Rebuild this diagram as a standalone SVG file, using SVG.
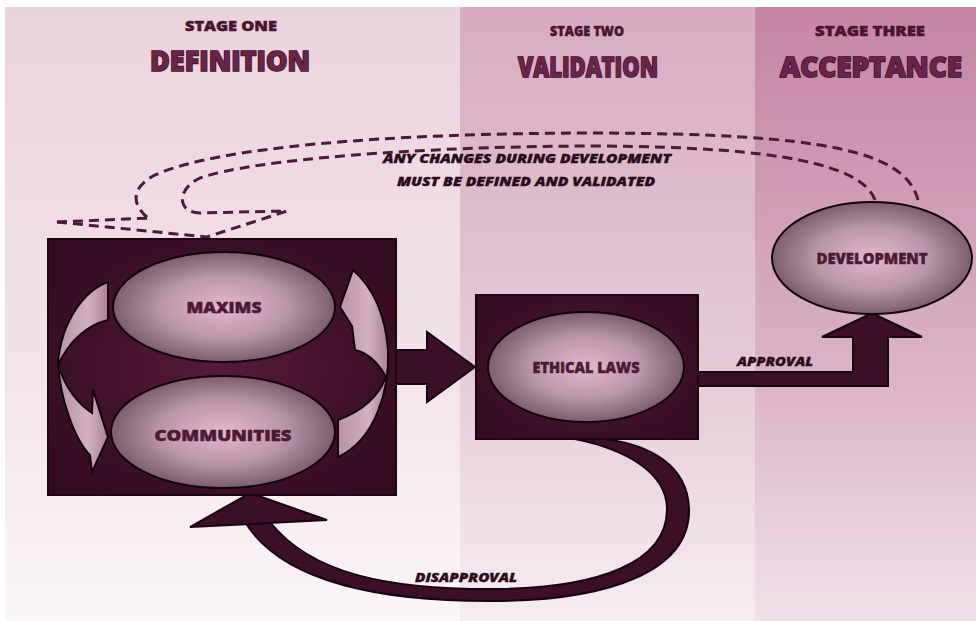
<svg xmlns="http://www.w3.org/2000/svg" width="976" height="621" viewBox="0 0 976 621">
<defs>
<linearGradient id="bg1" x1="0" y1="0" x2="0" y2="1"><stop offset="0" stop-color="#ebd3dd"/><stop offset="0.6" stop-color="#f2e3e9"/><stop offset="1" stop-color="#fbf6f8"/></linearGradient>
<linearGradient id="bg2" x1="0" y1="0" x2="0" y2="1"><stop offset="0" stop-color="#d6acc0"/><stop offset="0.6" stop-color="#e6cbd7"/><stop offset="1" stop-color="#f6edf1"/></linearGradient>
<linearGradient id="bg3" x1="0" y1="0" x2="0" y2="1"><stop offset="0" stop-color="#c485a3"/><stop offset="0.6" stop-color="#dbb3c6"/><stop offset="1" stop-color="#f1e1e9"/></linearGradient>
<radialGradient id="ell" cx="0.5" cy="0.5" r="0.5"><stop offset="0" stop-color="#e2b9cd"/><stop offset="0.55" stop-color="#bb97aa"/><stop offset="1" stop-color="#7d5d6d"/></radialGradient>
<radialGradient id="boxg" cx="0.5" cy="0.5" r="0.6"><stop offset="0" stop-color="#561a3c"/><stop offset="1" stop-color="#340b21"/></radialGradient>
<linearGradient id="arrg" x1="0" y1="0" x2="1" y2="0"><stop offset="0" stop-color="#b891a5"/><stop offset="0.6" stop-color="#d3b0c2"/><stop offset="1" stop-color="#a98296"/></linearGradient>
</defs>
<style>
.hdr{font-family:"Open Sans","Lato",sans-serif;font-weight:800;fill:#4a1430;stroke:#4a1430;stroke-width:0.5;text-anchor:middle}
.big{font-family:"Open Sans","Lato",sans-serif;font-weight:800;fill:#6b2449;stroke:#3a0b22;stroke-width:1.6;text-anchor:middle;paint-order:stroke}
.lbl{font-family:"Open Sans","Lato",sans-serif;font-weight:800;fill:#4d1a36;stroke:#4d1a36;stroke-width:0.5;text-anchor:middle;font-size:15px}
.note{font-family:"Open Sans","Lato",sans-serif;font-weight:800;font-style:italic;fill:#2a0a1b;stroke:#2a0a1b;stroke-width:0.4;text-anchor:middle;font-size:13px}
.box{fill:url(#boxg);stroke:#1a0510;stroke-width:2}
.el{fill:url(#ell);stroke:#120309;stroke-width:2}
.dash{fill:none;stroke:#4d1a35;stroke-width:3;stroke-dasharray:10 6}
.arr{fill:#3d0f27;stroke:#150410;stroke-width:2;stroke-linejoin:miter}
.carr{fill:url(#arrg);stroke:#120309;stroke-width:2;stroke-linejoin:miter}
</style>
<rect x="0" y="0" width="976" height="621" fill="#ffffff"/>
<rect x="5" y="7" width="455" height="614" fill="url(#bg1)"/>
<rect x="460" y="7" width="295" height="614" fill="url(#bg2)"/>
<rect x="755" y="7" width="221" height="614" fill="url(#bg3)"/>

<g id="headers">
<text class="hdr" x="231" y="31" font-size="14" textLength="92" lengthAdjust="spacingAndGlyphs">STAGE ONE</text>
<text class="big" x="230" y="71" font-size="29" textLength="160" lengthAdjust="spacingAndGlyphs">DEFINITION</text>
<text class="hdr" x="587" y="36" font-size="14" textLength="74" lengthAdjust="spacingAndGlyphs">STAGE TWO</text>
<text class="big" x="588" y="77" font-size="29" textLength="140" lengthAdjust="spacingAndGlyphs">VALIDATION</text>
<text class="hdr" x="870" y="36" font-size="14" textLength="110" lengthAdjust="spacingAndGlyphs">STAGE THREE</text>
<text class="big" x="871" y="77" font-size="29" textLength="182" lengthAdjust="spacingAndGlyphs">ACCEPTANCE</text>
</g>

<g id="connectors">
<path class="arr" d="M247,525 C285,582 380,601 490,601 C612,601 691,570 689,508 C687,465 650,445 605,439 L575,439 C625,449 666,472 667,508 C668,562 600,589 490,589 C390,589 312,575 270,522 Z"/>
<polygon class="arr" points="250,493 190,527 327,520"/>
<polygon class="arr" points="396,350 427,350 427,332 475,367 427,402 427,384 396,384"/>
<polygon class="arr" points="698,372 853,372 853,337 822,337 872,313 922,337 888,337 888,386 698,386"/>
<path class="dash" d="M918,200 C905,150 820,134 600,133 C380,133 215,148 155,175 C130,188 132,205 148,218"/>
<path class="dash" d="M875,200 C862,165 780,147 600,146 C420,146 250,160 200,178 C175,190 178,213 200,213 L287,211"/>
<path class="dash" d="M57,222 L150,218"/>
<path class="dash" d="M57,222 L207,237 L287,211"/>
<text class="note" x="527" y="163" textLength="288" lengthAdjust="spacingAndGlyphs">ANY CHANGES DURING DEVELOPMENT</text>
<text class="note" x="526" y="186" textLength="258" lengthAdjust="spacingAndGlyphs">MUST BE DEFINED AND VALIDATED</text>
<text class="note" x="775" y="366" textLength="76" lengthAdjust="spacingAndGlyphs">APPROVAL</text>
<text class="note" x="466" y="582" textLength="102" lengthAdjust="spacingAndGlyphs">DISAPPROVAL</text>
</g>

<g id="node-definition">
<rect class="box" x="48" y="239" width="348" height="256"/>
<path class="carr" d="M108,282 C85,290 62,320 58,362 C60,400 75,440 90,455 L92,472 L108,437 L93,390 L92,413 C80,405 66,390 58,365 C70,340 88,325 108,320 Z"/>
<path class="carr" d="M353,270 C370,285 385,310 388,350 C390,390 375,440 338,457 L338,420 C360,412 378,398 386,377 C378,362 366,352 355,350 L352,326 L340,307 Z"/>
</g>
<g id="node-maxims">
<ellipse class="el" cx="224" cy="307" rx="111" ry="55"/>
<text class="lbl" x="224" y="313" textLength="75" lengthAdjust="spacingAndGlyphs">MAXIMS</text>
</g>
<g id="node-communities">
<ellipse class="el" cx="223" cy="432" rx="112" ry="56"/>
<text class="lbl" x="223" y="441" textLength="137" lengthAdjust="spacingAndGlyphs">COMMUNITIES</text>
</g>
<g id="node-ethical">
<rect class="box" x="476" y="295" width="222" height="144"/>
<ellipse class="el" cx="586" cy="367" rx="98" ry="55"/>
<text class="lbl" x="586" y="373" font-size="14" textLength="107" lengthAdjust="spacingAndGlyphs">ETHICAL LAWS</text>
</g>
<g id="node-development">
<ellipse class="el" cx="872" cy="258" rx="100" ry="56"/>
<text class="lbl" x="872" y="264" font-size="14" textLength="111" lengthAdjust="spacingAndGlyphs">DEVELOPMENT</text>
</g>
</svg>
